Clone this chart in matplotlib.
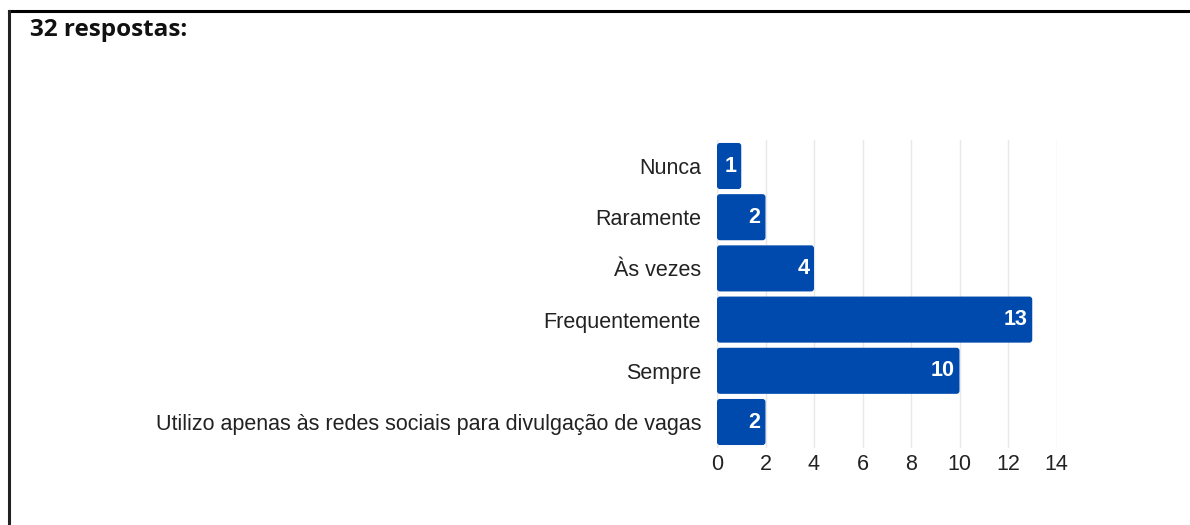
import matplotlib
matplotlib.use("Agg")
import matplotlib.pyplot as plt
from matplotlib.lines import Line2D
from matplotlib.patches import FancyBboxPatch

categories = ["Nunca", "Raramente", "Às vezes", "Frequentemente", "Sempre",
              "Utilizo apenas às redes sociais para divulgação de vagas"]
values = [1, 2, 4, 13, 10, 2]
xticks = [0, 2, 4, 6, 8, 10, 12, 14]
title = "32 respostas:"

bar_color = "#004AAD"

fig = plt.figure(figsize=(11.9, 5.25), dpi=100)
ax = fig.add_axes([717/1190, 1-447.6/525, (1056.5-717)/1190, (447.6-140.4)/525])

y = list(range(len(categories)))
bars = ax.barh(y, values, height=0.9, color=bar_color, zorder=3)
for rect in bars:
    x0, y0 = rect.get_x(), rect.get_y()
    w, h = rect.get_width(), rect.get_height()
    rect.set_visible(False)
    ax.add_patch(FancyBboxPatch((x0, y0), w, h,
                                boxstyle="round,pad=0,rounding_size=0.12",
                                mutation_aspect=0.48, facecolor=bar_color,
                                edgecolor="none", zorder=3))
for yi, v in zip(y, values):
    ax.text(v - 0.2, yi, str(v), ha="right", va="center", color="white",
            fontsize=15.5, fontweight="bold", family="Liberation Sans", zorder=4)

ax.set_xlim(0, 14)
ax.set_ylim(len(categories) - 0.5, -0.5)
ax.set_xticks(xticks)
ax.set_xticklabels([str(t) for t in xticks])
ax.set_yticks(y)
ax.set_yticklabels(categories)
ax.tick_params(axis="both", length=0, labelsize=15.5, colors="#222222")
ax.tick_params(axis="y", pad=11.5)
ax.tick_params(axis="x", pad=4.5)
for lab in ax.get_xticklabels() + ax.get_yticklabels():
    lab.set_family("Liberation Sans")
ax.grid(axis="x", color="#e8e8e8", linewidth=1, zorder=0)
for s in ax.spines.values():
    s.set_visible(False)

fig.text(30/1190, 1-30/525, title, ha="left", va="center", fontsize=17.5,
         fontweight="bold", family="Open Sans", color="#111111")

fig.add_artist(Line2D([9/1190, 1], [1-10.5/525, 1-10.5/525], color="black", linewidth=2.2,
                      transform=fig.transFigure))
fig.add_artist(Line2D([9/1190, 9/1190], [1-10.5/525, 0], color="#222222", linewidth=2.2,
                      transform=fig.transFigure))

fig.savefig("out.png", dpi=100)
